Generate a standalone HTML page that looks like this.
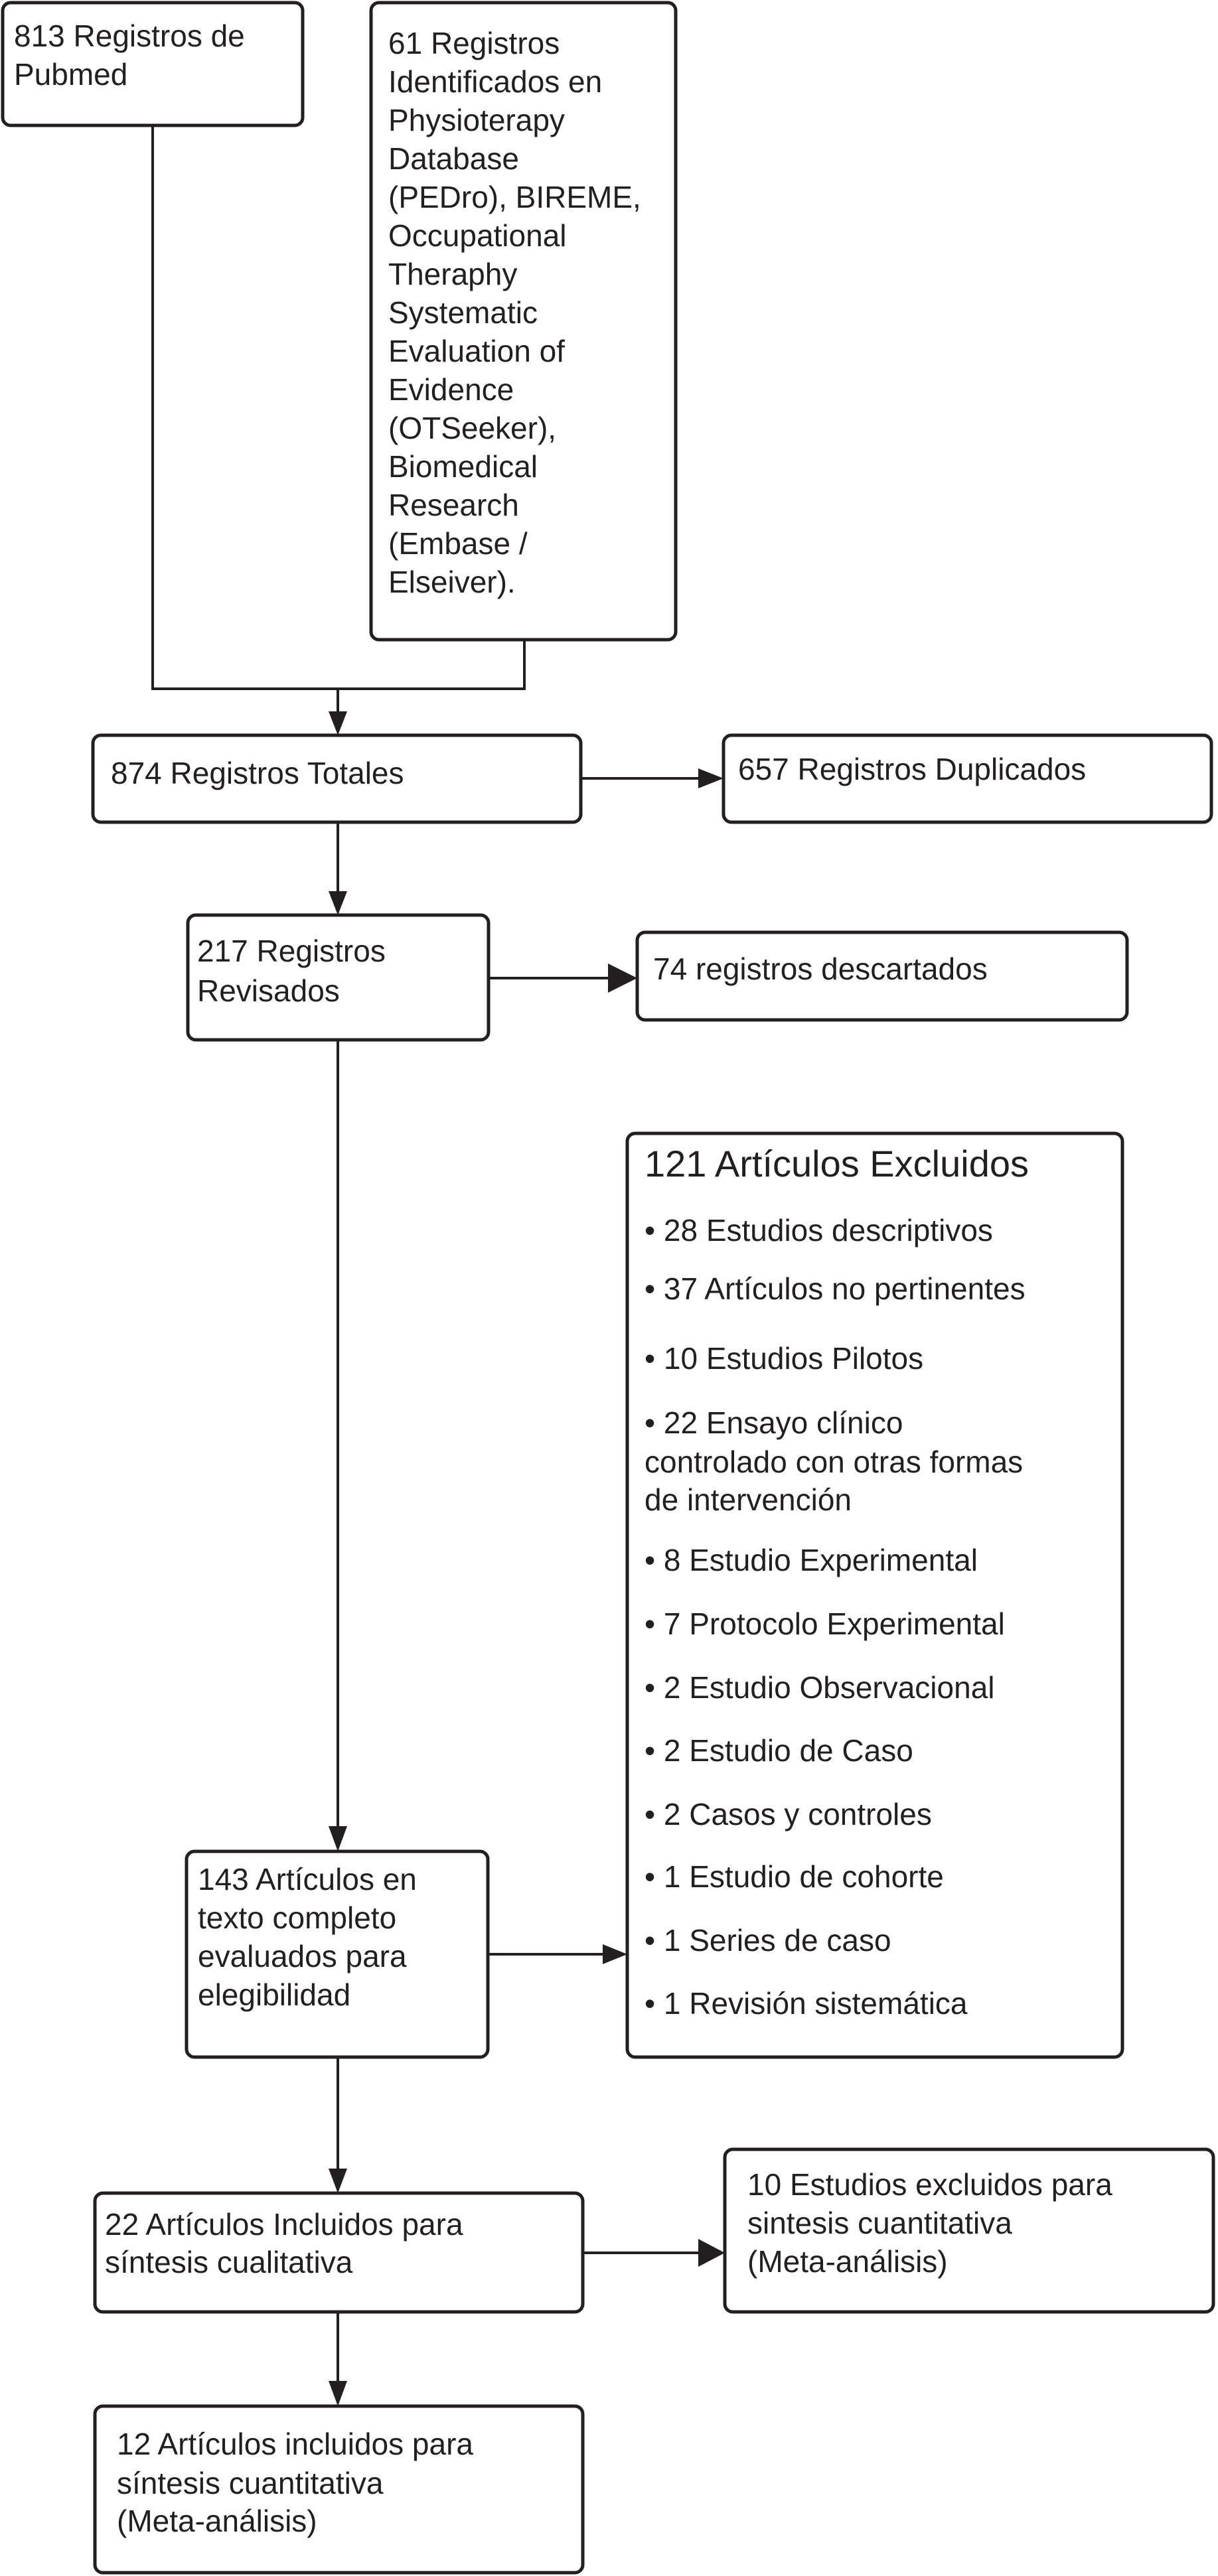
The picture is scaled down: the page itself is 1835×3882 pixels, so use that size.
<!DOCTYPE html>
<html><head><meta charset="utf-8"><style>
html,body{margin:0;padding:0;background:#fff;}
svg{display:block;}
text{font-family:"Liberation Sans",Arial,sans-serif;font-size:46px;fill:#231f20;}
</style></head><body>
<svg width="1835" height="3882" viewBox="0 0 1835 3882" xmlns="http://www.w3.org/2000/svg">
<g fill="none" stroke="#231f20" stroke-width="5">
<rect x="4" y="4" width="452" height="185" rx="12"/>
<rect x="559" y="4" width="459" height="960" rx="12"/>
<rect x="140" y="1108" width="735" height="131" rx="12"/>
<rect x="1090" y="1108" width="735" height="131" rx="12"/>
<rect x="283" y="1379" width="453" height="188" rx="12"/>
<rect x="960" y="1405" width="738" height="132" rx="12"/>
<rect x="945" y="1708" width="746" height="1392" rx="12"/>
<rect x="281" y="2790" width="454" height="310" rx="12"/>
<rect x="143" y="3305" width="735" height="179" rx="12"/>
<rect x="1092" y="3239" width="736" height="245" rx="12"/>
<rect x="143" y="3626" width="735" height="251" rx="12"/>
</g>
<g fill="none" stroke="#231f20" stroke-width="4">
<polyline points="230,189 230,1038 790,1038 790,964"/>
<line x1="509" y1="1038" x2="509" y2="1075"/>
<line x1="875" y1="1173" x2="1055" y2="1173"/>
<line x1="509" y1="1239" x2="509" y2="1345"/>
<line x1="736" y1="1474" x2="920" y2="1474"/>
<line x1="509" y1="1567" x2="509" y2="2755"/>
<line x1="735" y1="2945" x2="910" y2="2945"/>
<line x1="509" y1="3100" x2="509" y2="3270"/>
<line x1="878" y1="3395" x2="1055" y2="3395"/>
<line x1="509" y1="3484" x2="509" y2="3590"/>
</g>
<g fill="#231f20">
<polygon points="495,1072 523,1072 509,1108"/>
<polygon points="1052,1158 1052,1188 1090,1173"/>
<polygon points="495,1343 523,1343 509,1379"/>
<polygon points="916,1452 916,1496 960,1474"/>
<polygon points="495,2752 523,2752 509,2790"/>
<polygon points="908,2930 908,2960 945,2945"/>
<polygon points="495,3268 523,3268 509,3305"/>
<polygon points="1052,3374 1052,3416 1092,3395"/>
<polygon points="495,3588 523,3588 509,3626"/>
</g>
<text x="21" y="70">813 Registros de</text>
<text x="21" y="128">Pubmed</text>
<text x="585" y="81">61 Registros</text>
<text x="585" y="139">Identificados en</text>
<text x="585" y="197">Physioterapy</text>
<text x="585" y="255">Database</text>
<text x="585" y="313">(PEDro), BIREME,</text>
<text x="585" y="371">Occupational</text>
<text x="585" y="429">Theraphy</text>
<text x="585" y="487">Systematic</text>
<text x="585" y="545">Evaluation of</text>
<text x="585" y="603">Evidence</text>
<text x="585" y="661">(OTSeeker),</text>
<text x="585" y="719">Biomedical</text>
<text x="585" y="777">Research</text>
<text x="585" y="835">(Embase /</text>
<text x="585" y="893">Elseiver).</text>
<text x="167" y="1181">874 Registros Totales</text>
<text x="1112" y="1175">657 Registros Duplicados</text>
<text x="297" y="1449">217 Registros</text>
<text x="297" y="1509">Revisados</text>
<text x="984" y="1476">74 registros descartados</text>
<text x="971" y="1773" style="font-size:56px">121 Artículos Excluidos</text>
<text x="971" y="1870">• 28 Estudios descriptivos</text>
<text x="971" y="1958">• 37 Artículos no pertinentes</text>
<text x="971" y="2063">• 10 Estudios Pilotos</text>
<text x="971" y="2160">• 22 Ensayo clínico</text>
<text x="971" y="2219">controlado con otras formas</text>
<text x="971" y="2276">de intervención</text>
<text x="971" y="2367">• 8 Estudio Experimental</text>
<text x="971" y="2463">• 7 Protocolo Experimental</text>
<text x="971" y="2559">• 2 Estudio Observacional</text>
<text x="971" y="2654">• 2 Estudio de Caso</text>
<text x="971" y="2750">• 2 Casos y controles</text>
<text x="971" y="2844">• 1 Estudio de cohorte</text>
<text x="971" y="2940">• 1 Series de caso</text>
<text x="971" y="3035">• 1 Revisión sistemática</text>
<text x="298" y="2848">143 Artículos en</text>
<text x="298" y="2906">texto completo</text>
<text x="298" y="2964">evaluados para</text>
<text x="298" y="3022">elegibilidad</text>
<text x="158" y="3368">22 Artículos Incluidos para</text>
<text x="158" y="3425">síntesis cualitativa</text>
<text x="1126" y="3308">10 Estudios excluidos para</text>
<text x="1126" y="3366">sintesis cuantitativa</text>
<text x="1126" y="3424">(Meta-análisis)</text>
<text x="176" y="3699">12 Artículos incluidos para</text>
<text x="176" y="3758">síntesis cuantitativa</text>
<text x="176" y="3815">(Meta-análisis)</text>
</svg>
</body></html>
